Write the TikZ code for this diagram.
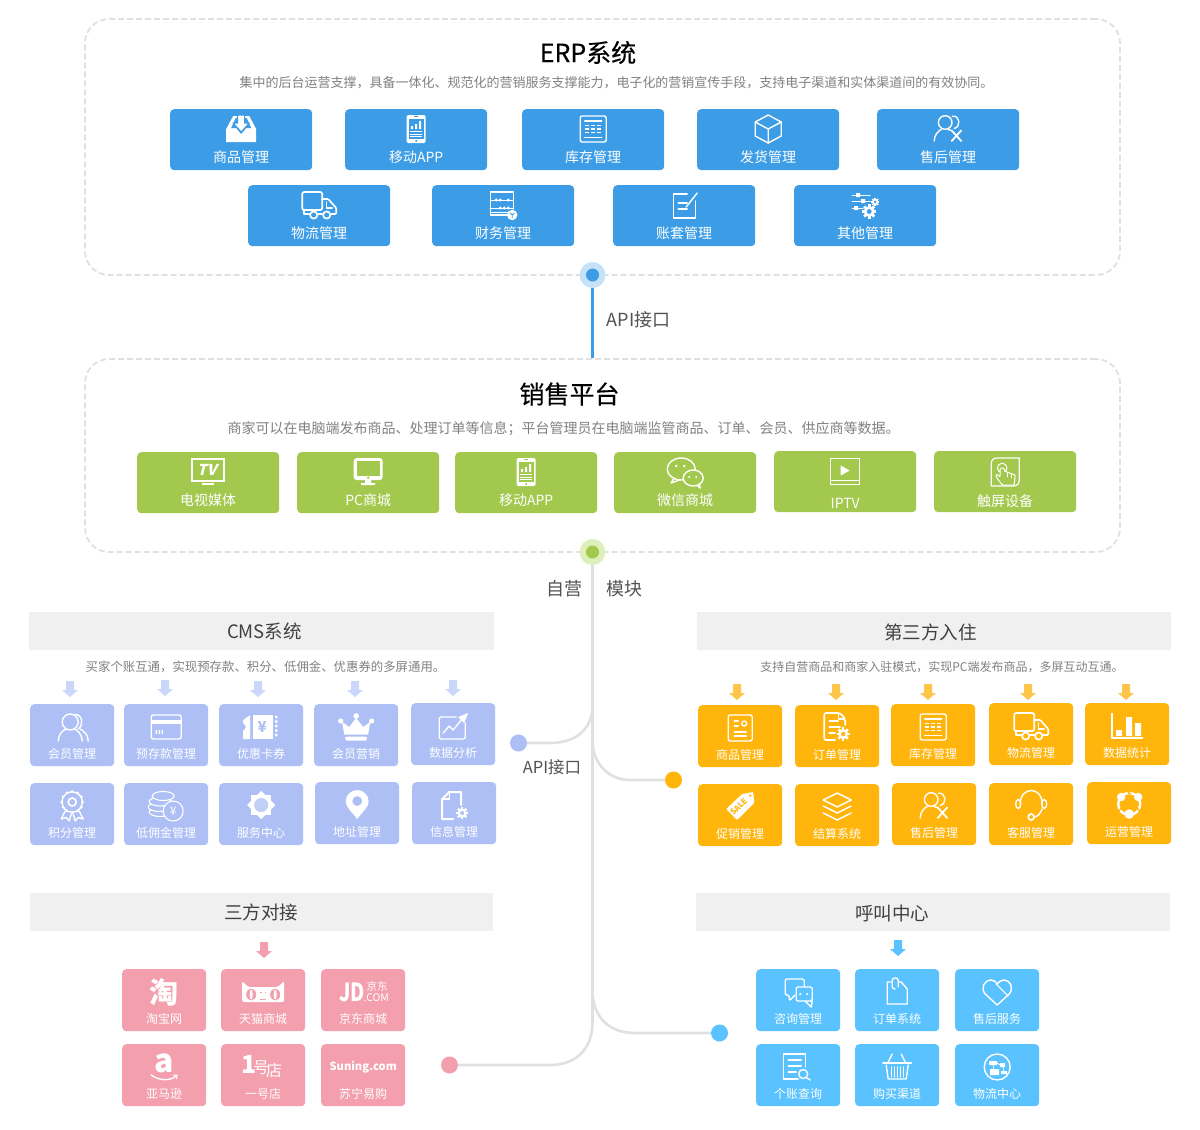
\documentclass[tikz,border=0pt]{standalone}
\usepackage{fontspec}
\setmainfont{Noto Sans CJK SC}
\newfontfamily\halfbold[FakeBold=0.35]{Noto Sans CJK SC}
\usetikzlibrary{calc}

\definecolor{erpblue}{HTML}{3C9DE6}
\definecolor{erphalo}{HTML}{C6E2F8}
\definecolor{salegreen}{HTML}{A2C84E}
\definecolor{salehalo}{HTML}{DFEFBC}
\definecolor{cmsblue}{HTML}{ADBFF5}
\definecolor{cmsarrow}{HTML}{CBD7FA}
\definecolor{amber}{HTML}{FFB50B}
\definecolor{amberarrow}{HTML}{FDC54A}
\definecolor{rosepink}{HTML}{F39FAE}
\definecolor{skyblue}{HTML}{5AC2FE}
\definecolor{panelgray}{HTML}{E0E0E0}
\definecolor{barfill}{HTML}{F0F0F0}

\newcommand{\fs}[1]{\fontsize{#1}{#1}\selectfont}

\tikzset{
	panel/.style = {draw=panelgray, line width=1.8pt, dash pattern=on 6pt off 3pt, rounded corners=24pt, inner sep=0pt, minimum width=1035pt},
	bigtile/.style = {rounded corners=4pt, inner sep=0pt, minimum width=142pt, minimum height=61pt, anchor=north west},
	smalltile/.style = {rounded corners=4pt, inner sep=0pt, minimum width=84pt, minimum height=62pt, anchor=north west},
	bigtext/.style = {text=white, font=\fs{14}, inner sep=0pt},
	smalltext/.style = {text=white, font=\fs{12}, inner sep=0pt},
	headbar/.style = {fill=barfill, inner sep=0pt, minimum height=38pt, anchor=north west},
	headtext/.style = {text=black!75, inner sep=0pt, font=\fs{18.5}},
	subtext/.style = {text=black!50, inner sep=0pt},
	apitext/.style = {text=black!68, inner sep=0pt},
	halo/.style = {circle, inner sep=0pt, minimum size=26pt},
	dot/.style = {circle, inner sep=0pt, minimum size=13pt},
	enddot/.style = {circle, inner sep=0pt, minimum size=17pt},
	branch/.style = {draw=panelgray, line width=2.6pt},
	icline/.style = {draw=white, line width=1.4pt, line join=round, line cap=round},
	icthick/.style = {draw=white, line width=2pt, line join=round, line cap=round},
	icmark/.style = {text=white, inner sep=0pt}
}

\newcommand{\bigtile}[6]{
	\colorlet{tc}{#4}
	\node[bigtile, fill=tc] (#1) at (#2,#3) {};
	\node[bigtext] (#1text) at ([yshift=-48pt]#1.north) {#5};
	\begin{scope}[shift={([yshift=-20pt]#1.north)}] #6 \end{scope}
}
\newcommand{\smalltile}[6]{
	\colorlet{tc}{#4}
	\node[smalltile, fill=tc] (#1) at (#2,#3) {};
	\node[smalltext] (#1text) at ([yshift=-50pt]#1.north) {#5};
	\begin{scope}[shift={([yshift=-23pt]#1.north)}] #6 \end{scope}
}
\newcommand{\blockarrow}[3]{
	\fill[#3] ({#1-4},#2) -- ({#1+4},#2) -- ({#1+4},{#2+9}) -- ({#1+8},{#2+9}) -- (#1,{#2+16}) -- ({#1-8},{#2+9}) -- ({#1-4},{#2+9}) -- cycle;
}
\newcommand{\gearat}[3]{
	\foreach \a in {0,45,...,315} \draw[white, line width={#3*0.45}] (#1,#2) -- ++(\a:{#3*1.2});
	\fill[white] (#1,#2) circle ({#3*0.9});
	\fill[tc] (#1,#2) circle ({#3*0.4});
}

\newcommand{\icinbox}{
	\fill[white] (-15,13) -- (-15,0) -- (-8,-13) -- (8,-13) -- (15,0) -- (15,13) -- cycle;
	\fill[tc] (-10,-1) -- (-5.5,-11) -- (5.5,-11) -- (10,-1) -- (5,-1) -- (0,5) -- (-5,-1) -- cycle;
	\fill[white, draw=tc, line width=1pt] (-3.5,-14) -- (3.5,-14) -- (3.5,-6) -- (8,-6) -- (0,3) -- (-8,-6) -- (-3.5,-6) -- cycle;
}
\newcommand{\icphone}{
	\fill[white, rounded corners=1.5pt] (-9.5,-14) rectangle (9.5,14);
	\fill[tc] (-7.5,-10.5) rectangle (7.5,10);
	\fill[white] (-5,-3) rectangle (-3,0) (-1,-5) rectangle (1,0) (3,-8) rectangle (5,0);
	\draw[white, line width=0.7pt] (-6,2.5) -- (6,2.5) (-6,5) -- (6,5) (-6,7.5) -- (6,7.5);
	\fill[tc] (0,12) circle (1.2);
	\draw[tc, line width=0.8pt] (-2,-12.2) -- (2,-12.2);
}
\newcommand{\ictable}{
	\draw[icline, rounded corners=2pt] (-13,-13) rectangle (13,13);
	\draw[icline] (-8.5,-8) -- (8.5,-8) (-8.5,8.5) -- (8.5,8.5);
	\foreach \yy in {-3.5,0,3.5} \draw[white, line width=1.3pt, dash pattern=on 4.4pt off 1.6pt] (-8.5,\yy) -- (8.5,\yy);
}
\newcommand{\iccube}{
	\draw[icline] (0,-14) -- (13,-7) -- (13,7) -- (0,14) -- (-13,7) -- (-13,-7) -- cycle;
	\draw[icline] (-13,-7) -- (0,0) -- (13,-7) (0,0) -- (0,14);
}
\newcommand{\icaftersale}{
	\draw[icline] (4,-12.8) .. controls (12,-14) and (13,-2) .. (6,-0.5);
	\draw[icline] (-3,-6.5) circle (6.8);
	\draw[icline] (-14,12) .. controls (-14,6) and (-10,2) .. (-7,0.5);
	\draw[icline] (0,0.5) -- (3,1.5);
	\draw[icline, line width=1.8pt] (3.5,1.5) -- (13,12) (13,1.5) -- (3.5,12);
}
\newcommand{\ictruck}{
	\draw[icline, rounded corners=2pt, line width=1.7pt] (-17,-13) rectangle (3,5);
	\draw[icline, line width=1.7pt, rounded corners=1pt] (3,-6) -- (9,-6) -- (17,3) -- (17,9) -- (12,9);
	\draw[icline] (7,-3) -- (7,3) -- (13,3);
	\draw[icline, line width=1.7pt] (-15,5) -- (-15,9) -- (-10,9) (-1,9) -- (3,9);
	\draw[icline, line width=1.7pt, fill=tc] (-5.5,10) circle (3.6) (7.5,10) circle (3.6);
}
\newcommand{\icabacus}{
	\draw[icline] (10,4) -- (10,-13) -- (-13,-13) -- (-13,10) -- (4,10);
	\draw[icline, line width=1pt] (-13,-5) -- (10,-5) (-13,3) -- (10,3) (-13,7) -- (6,7);
	\foreach \xx in {-7,-3,5} \fill[white] (\xx,-5) circle (1.7);
	\foreach \xx in {-3,1,5} \fill[white] (\xx,3) circle (1.7);
	\fill[white] (9,10) circle (5.2);
	\draw[tc, line width=0.8pt] (6.8,7.8) -- (9,10) -- (11.2,7.8) (9,10) -- (9,13);
}
\newcommand{\icedit}{
	\draw[icline] (3,-11) -- (-11,-11) -- (-11,13) -- (11,13) -- (11,-4);
	\draw[icline] (-6,-2) -- (3,-2) (-6,4) -- (3,4);
	\draw[icline] (2,2) -- (13,-12);
}
\newcommand{\icsliders}{
	\draw[icline, line width=1pt] (-13,-10) -- (5,-10) (-13,-4) -- (5,-4) (-13,3) -- (-2,3);
	\fill[white] (-9,-12) rectangle (-5,-8) (-4,-6) rectangle (0,-2) (-11,1) rectangle (-7,5);
	\gearat{10}{-3}{3.5}
	\gearat{4}{6.5}{6}
}
\newcommand{\ictv}{
	\draw[white, line width=1.5pt] (-16,-13) rectangle (16,9);
	\fill[white] (-6,11) rectangle (6,13);
	\node[icmark, font=\fs{15}\bfseries, xslant=0.25, transform shape] (tvmark) at (0,-2) {TV};
}
\newcommand{\icmonitor}{
	\fill[white, rounded corners=3pt] (-14.5,-14) rectangle (14.5,8);
	\fill[tc] (-11.5,-11) rectangle (11.5,3.5);
	\fill[tc] (0,5.7) circle (1.3);
	\fill[white] (-3,8) rectangle (3,11) (-7,11) rectangle (7,13);
}
\newcommand{\icwechat}{
	\draw[icline] (-4,-3) ellipse (14 and 11);
	\draw[icline] (-11,6) -- (-14,11) -- (-6,8);
	\draw[icline, fill=tc] (8,6) ellipse (10 and 8);
	\draw[icline] (12,13.5) -- (15,16) -- (14,11.5);
	\fill[white] (-9,-6) circle (1.4) (-1,-6) circle (1.4) (4,5) circle (1.2) (11,5) circle (1.2);
}
\newcommand{\iciptv}{
	\draw[white, line width=1pt] (-14.5,-13) rectangle (14.5,13) (-14.5,9.5) -- (14.5,9.5);
	\fill[white] (-4.5,-5.5) -- (4.5,-0.5) -- (-4.5,4.5) -- cycle;
}
\newcommand{\ictouch}{
	\draw[icline, line width=1.2pt] (-14,15) -- (-14,-7) .. controls (-14,-11) and (-12,-13) .. (-8,-13) -- (14,-13) -- (14,9) .. controls (14,13) and (12,15) .. (8,15) -- cycle;
	\draw[icline, line width=1pt] (-3,-3) circle (4.8);
	\draw[icline, line width=1pt, fill=tc, rounded corners=1pt] (-5,-3) -- (-5,6) -- (-9,3) -- (-9,6) -- (-3,14) -- (9,14) -- (10,4) -- (-1,0) -- (-1,-3) -- cycle;
	\draw[icline, line width=0.8pt] (2,1.5) -- (2,6) (6,3) -- (6,7);
}
\newcommand{\icusers}{
	\draw[icline] (-2,-5) circle (8);
	\draw[icline] (3,-12.5) .. controls (10,-13) and (12,-2) .. (6,2);
	\draw[icline] (-14,14) .. controls (-14,7) and (-9,3) .. (-6,2);
	\draw[icline] (10,14) .. controls (10,7) and (5,3) .. (2,2);
	\draw[icline] (16,14) .. controls (16,8) and (12,4) .. (8,2);
}
\newcommand{\iccard}{
	\draw[icline, rounded corners=2pt] (-15,-12) rectangle (15,12);
	\fill[white] (-15,-7) rectangle (15,-3);
	\fill[white] (-10.5,3) rectangle (-9,7) (-7.5,3) rectangle (-6,7) (-4.5,3) rectangle (-3,7);
}
\newcommand{\icticket}{
	\fill[white] (-18,-7) -- (-11,-12) -- (-11,12) -- (-18,12) -- (-18,4) -- (-15,0) -- (-18,-4) -- cycle;
	\fill[white] (-8,-12) rectangle (12,12);
	\foreach \yy in {-10,-5.5,...,10} \fill[white] (15,\yy) circle (1.6);
	\node[text=tc, inner sep=0pt, font=\fs{15}\bfseries] (ticketyen) at (1,0) {¥};
}
\newcommand{\iccrown}{
	\fill[white, rounded corners=1.5pt] (-11,9.5) rectangle (11,13.5);
	\fill[white] (-12,7.5) -- (-14,-5) -- (-7,0) -- (0,-9) -- (7,0) -- (14,-5) -- (12,7.5) -- cycle;
	\fill[white] (-15.5,-6) circle (2.6) (0,-11) circle (2.8) (15.5,-6) circle (2.6);
}
\newcommand{\icgrowth}{
	\draw[icline, rounded corners=1.5pt] (3,-9) -- (-14,-9) -- (-14,13) -- (12,13) -- (12,-3);
	\draw[icline] (-10,7) -- (-4,0) -- (0,4) -- (8,-6);
	\fill[white] (15,-13) -- (5,-9) -- (11,-3) -- cycle;
}
\newcommand{\icbadge}{
	\draw[icline] (0,-4) circle (10.2);
	\foreach \a in {0,30,...,330} \fill[white] (0,-4) ++(\a:10.5) circle (1.5);
	\draw[icline, line width=1.7pt] (0,-4) circle (4);
	\draw[icline] (-7,5) -- (-11,13) -- (-6,11.5) -- (-3,15) -- (-1,8);
	\draw[icline] (7,5) -- (11,13) -- (6,11.5) -- (3,15) -- (1,8);
}
\newcommand{\iccoins}{
	\draw[icline, line width=1.1pt, fill=tc] (-6,6) ellipse (11 and 4.5);
	\draw[icline, line width=1.1pt, fill=tc] (-7,1) ellipse (11 and 4.5);
	\draw[icline, line width=1.1pt, fill=tc] (-6,-4.5) ellipse (11 and 4.5);
	\draw[icline, line width=1.1pt, fill=tc] (-3,-10) ellipse (11 and 4.5);
	\draw[icline, line width=1.1pt, fill=tc] (7,5) circle (10);
	\node[icmark, font=\fs{12}] (coinyen) at (7,5) {¥};
}
\newcommand{\icsun}{
	\fill[white] (-10,-11) rectangle (10,9);
	\fill[white, rotate around={45:(0,-1)}] (-10,-11) rectangle (10,9);
	\fill[tc] (0,-1) circle (7);
	\fill[white, opacity=0.25] (0,-1) circle (7);
}
\newcommand{\icpin}{
	\fill[white, even odd rule] (0,14) .. controls (-6,6) and (-11.5,2) .. (-11.5,-3.5) .. controls (-11.5,-10) and (-6,-15) .. (0,-15) .. controls (6,-15) and (11.5,-10) .. (11.5,-3.5) .. controls (11.5,2) and (6,6) .. (0,14) -- cycle (0,-4) circle (5);
}
\newcommand{\icdocgear}{
	\draw[icthick] (-1,14) -- (-12,14) -- (-12,-6) -- (-5,-13) -- (7,-13) -- (7,0);
	\draw[icline] (-5,-13) -- (-5,-6) -- (-12,-6);
	\gearat{8}{8}{5}
}
\newcommand{\icgoods}{
	\draw[icline, rounded corners=2pt] (-12,-13) rectangle (12,13);
	\draw[icline] (-6,-7) -- (-2,-7) (-6,-2) -- (-2,-2) (-6,4) -- (6,4) (-6,8) -- (6,8);
	\draw[icline] (4,-4.5) circle (2.5);
}
\newcommand{\icorder}{
	\draw[icline, rounded corners=2pt, line width=1.7pt] (-2,12) -- (-13,12) -- (-13,-15) -- (3,-15) -- (8,-9) -- (8,-3);
	\draw[icline] (-8,-7) -- (1,-7) (-8,-1) -- (3,-1) (-8,5) -- (-2,5);
	\draw[icline] (1,-14) -- (1,-9) -- (7,-9);
	\gearat{6}{6}{5.5}
}
\newcommand{\icbars}{
	\draw[icthick, line cap=butt] (-15,-13) -- (-15,12) -- (16,12);
	\fill[white] (-11,4) rectangle (-5,10) (-1,-9) rectangle (5,10) (8,-3) rectangle (14,10);
}
\newcommand{\icsale}{
	\fill[white, rounded corners=1pt] (2,-13) -- (13,-15) -- (14,-4) -- (-3,13) -- (-14,2) -- cycle;
	\fill[tc] (10,-11.5) circle (1.3);
	\node[text=tc, inner sep=0pt, font=\fs{8}\bfseries, rotate=45] (salemark) at (-1.5,-0.5) {SALE};
}
\newcommand{\iclayers}{
	\draw[icline] (0,-14) -- (14,-7) -- (0,0) -- (-14,-7) -- cycle;
	\draw[icline] (-14,-1) -- (0,6) -- (14,-1) (-14,6) -- (0,13) -- (14,6);
}
\newcommand{\icheadset}{
	\draw[icline] (-11,-2) .. controls (-11,-20) and (11,-20) .. (11,-2);
	\draw[icline] (-13,-2) ellipse (2.5 and 4.5) (13,-2) ellipse (2.5 and 4.5);
	\draw[icline] (11,3) .. controls (9,8) and (6,11) .. (3,11);
	\draw[icline, line width=1.7pt] (0,11) circle (3);
}
\newcommand{\icops}{
	\draw[white, line width=2.4pt] (0,-1) circle (11);
	\fill[white] (-8,-8) circle (4.2) (9,-8) circle (4.2) (0,9) circle (4.8);
	\draw[tc, line width=1.4pt] (-1.5,-12.5) -- (1.5,-11) (-10.5,6) -- (-8,3.5) (10.5,6) -- (8,3.5);
}
\newcommand{\ictaobao}{
	\node[icmark, font=\fs{29}\bfseries] (taobaomark) at (0,0) {淘};
}
\newcommand{\iccat}{
	\fill[white, rounded corners=2pt] (-21,-11) -- (-15,-5) -- (15,-5) -- (21,-11) -- (21,10) -- (-21,10) -- cycle;
	\fill[tc] (-12,2.5) ellipse (5 and 6) (12,2.5) ellipse (5 and 6);
	\fill[white] (-12,2.5) ellipse (1.5 and 5) (12,2.5) ellipse (1.5 and 5);
	\draw[tc, line width=1pt] (-3,0) -- (-1.5,0) (1.5,0) -- (3,0) (-3,7) -- (3,7);
}
\newcommand{\icjd}{
	\node[icmark, font=\fs{25}\bfseries, xscale=0.78, transform shape] (jdmark) at (-11,0) {JD};
	\node[icmark, font=\fs{10.5}] (jdcn) at (14,-5.5) {京东};
	\node[icmark, font=\fs{10.5}] (jdcom) at (13,6) {.COM};
}
\newcommand{\icamazon}{
	\node[icmark, font=\fs{32}\bfseries] (amazonmark) at (0,-4) {a};
	\draw[icline] (-13,8) .. controls (-5,14) and (6,14) .. (12,9);
	\draw[icline, line width=1pt] (9,8) -- (13,8) -- (12,12);
}
\newcommand{\icyihao}{
	\node[icmark, font=\fs{25}\bfseries] (yihaoone) at (-14,-3) {1};
	\node[icmark, font=\fs{16}] (yihaohao) at (-2,1) {号};
	\node[icmark, font=\fs{16}] (yihaodian) at (11,3) {店};
}
\newcommand{\icsuning}{
	\node[icmark, font=\fs{11.2}\bfseries] (suningmark) at (0,0) {Suning.com};
}
\newcommand{\icchat}{
	\draw[icline, rounded corners=1.5pt] (-3,3) -- (-9,9) -- (-9,3) -- (-13,3) -- (-13,-13) -- (6,-13) -- (6,-5);
	\draw[icline, fill=tc, rounded corners=1.5pt] (-2,-5) rectangle (14,9);
	\draw[icline] (14,9) -- (13,15) -- (7,9);
	\fill[white] (2,2) circle (1.2) (9,2) circle (1.2);
}
\newcommand{\icclip}{
	\draw[icline] (2,-10) -- (4,-10) -- (10,-3) -- (10,12) -- (-10,12) -- (-10,-10) -- (-5,-10);
	\draw[icline, rounded corners=2.5pt] (-2,-3) -- (-5,-3) -- (-5,-14) -- (1,-14) -- (1,-5);
}
\newcommand{\icheart}{
	\draw[icline] (0,13) -- (-12,2) .. controls (-17,-4) and (-13,-12) .. (-6,-12) .. controls (-3,-12) and (-1,-10) .. (0,-8) .. controls (1,-10) and (4,-12) .. (7,-12) .. controls (13,-12) and (17,-4) .. (12,2) -- cycle;
	\draw[icline, line width=1pt] (-1,-8) -- (11,4);
}
\newcommand{\iclistmag}{
	\draw[icline] (7,0) -- (7,-13) -- (-15,-13) -- (-15,12) -- (0,12);
	\draw[icline] (-10,-7) -- (3,-7) (-10,-1) -- (3,-1) (-10,5) -- (-2,5);
	\draw[icline] (5,7) circle (4.5);
	\draw[icline] (8,10.5) -- (12,13);
}
\newcommand{\icbasket}{
	\draw[icthick] (-14,-4) -- (14,-4);
	\draw[icline] (-11,-2) -- (-9,12) -- (9,12) -- (11,-2);
	\foreach \xx in {-6,-3,0,3,6} \draw[icline] (\xx,0) -- (\xx,10);
	\draw[icline] (-5,-13) -- (-9,-5) (4,-13) -- (8,-5);
}
\newcommand{\icflow}{
	\draw[icline] (0,0) circle (13);
	\fill[white] (-8,-6) rectangle (0,-2) (-7,2) rectangle (2,8) (3,-4) rectangle (8,0) (4,4) rectangle (10,7);
	\draw[white, line width=0.8pt] (-4,-2) -- (-4,2) (0,-4) -- (3,-2) (6,0) -- (6,4);
}

\begin{document}
\begin{tikzpicture}[x=1pt, y=-1pt]
	\useasboundingbox (0,0) rectangle (1200,1130);

	\node[panel, minimum height=256pt] (erppanel) at (602.5,147) {};
	\node[panel, minimum height=193pt] (salepanel) at (602.5,455.5) {};
	\node[halo, fill=erphalo] (erpring) at (592.5,275) {};
	\node[dot, fill=erpblue] (erpdot) at (592.5,275) {};
	\node[halo, fill=salehalo] (salering) at (592.5,552) {};
	\node[dot, fill=salegreen] (saledot) at (592.5,552) {};
	\draw[erpblue, line width=2.6pt] (erpring) -- (erpring |- salepanel.north);

	\node[inner sep=0pt, font=\fs{25}\halfbold] (erptitle) at (588,52.5) {ERP系统};
	\node[subtext, font=\fs{13}] (erpnote) at (616.5,83) {集中的后台运营支撑，具备一体化、规范化的营销服务支撑能力，电子化的营销宣传手段，支持电子渠道和实体渠道间的有效协同。};
	\node[apitext, font=\fs{18}] (toplabel) at (638.5,320) {API接口};
	\node[inner sep=0pt, font=\fs{25}\halfbold] (saletitle) at (569.5,394) {销售平台};
	\node[subtext, font=\fs{14}] (salenote) at (563.5,428.5) {商家可以在电脑端发布商品、处理订单等信息；平台管理员在电脑端监管商品、订单、会员、供应商等数据。};
	\node[apitext, font=\fs{18}] (selflabel) at (564.5,588.5) {自营};
	\node[apitext, font=\fs{18}] (modlabel) at (624.5,588.5) {模块};
	\node[apitext, font=\fs{16.5}] (midlabel) at (552,767.5) {API接口};

	\bigtile{erpgoods}{170}{109}{erpblue}{商品管理}{\icinbox}
	\bigtile{erpmobile}{345}{109}{erpblue}{移动APP}{\icphone}
	\bigtile{erpstock}{522}{109}{erpblue}{库存管理}{\ictable}
	\bigtile{erpship}{697}{109}{erpblue}{发货管理}{\iccube}
	\bigtile{erpafter}{877}{109}{erpblue}{售后管理}{\icaftersale}
	\bigtile{erptruck}{248}{185}{erpblue}{物流管理}{\ictruck}
	\bigtile{erpfinance}{432}{185}{erpblue}{财务管理}{\icabacus}
	\bigtile{erpbook}{613}{185}{erpblue}{账套管理}{\icedit}
	\bigtile{erpother}{794}{185}{erpblue}{其他管理}{\icsliders}

	\bigtile{saletv}{137}{452}{salegreen}{\raisebox{-1pt}{电视媒体}}{\ictv}
	\bigtile{salepc}{297}{452}{salegreen}{PC商城}{\icmonitor}
	\bigtile{salemobile}{455}{452}{salegreen}{移动APP}{\icphone}
	\bigtile{salewechat}{614}{452}{salegreen}{微信商城}{\icwechat}
	\bigtile{saleiptv}{774}{451}{salegreen}{\raisebox{-9pt}[0pt][0pt]{IPTV}}{\iciptv}
	\bigtile{saletouch}{934}{451}{salegreen}{\raisebox{-7pt}[0pt][0pt]{触屏设备}}{\ictouch}

	\node[headbar, fill=barfill, minimum width=465pt] (cmsbar) at (29,612) {};
	\node[headtext] (cmstitle) at (264.5,631) {CMS系统};
	\node[subtext, font=\fs{12.4}] (cmsnote) at (265.5,667) {买家个账互通，实现预存款、积分、低佣金、优惠券的多屏通用。};
	\node[headbar, minimum width=474pt] (thirdbar) at (697,612) {};
	\node[headtext] (thirdtitle) at (930.5,632) {第三方入住};
	\node[subtext, font=\fs{12}] (thirdnote) at (942,667) {支持自营商品和商家入驻模式，实现PC端发布商品，多屏互动互通。};
	\node[headbar, minimum width=463pt] (dockbar) at (30,893) {};
	\node[headtext] (docktitle) at (261,912) {三方对接};
	\node[headbar, minimum width=474pt] (callbar) at (696,893) {};
	\node[headtext] (calltitle) at (892,913) {呼叫中心};

	\blockarrow{70}{681}{cmsarrow}
	\blockarrow{165}{680}{cmsarrow}
	\blockarrow{258}{681}{cmsarrow}
	\blockarrow{355}{681}{cmsarrow}
	\blockarrow{453}{680}{cmsarrow}
	\blockarrow{737}{684}{amberarrow}
	\blockarrow{836}{684}{amberarrow}
	\blockarrow{928}{684}{amberarrow}
	\blockarrow{1028}{684}{amberarrow}
	\blockarrow{1126}{684}{amberarrow}
	\blockarrow{264}{942}{rosepink}
	\blockarrow{898}{940}{skyblue}

	\smalltile{cmsuser}{30}{704}{cmsblue}{会员管理}{\icusers}
	\smalltile{cmsdeposit}{124}{704}{cmsblue}{预存款管理}{\iccard}
	\smalltile{cmscoupon}{219}{704}{cmsblue}{优惠卡券}{\icticket}
	\smalltile{cmsvip}{314}{704}{cmsblue}{会员营销}{\iccrown}
	\smalltile{cmsdata}{411}{703}{cmsblue}{数据分析}{\icgrowth}
	\smalltile{cmspoint}{30}{783}{cmsblue}{积分管理}{\icbadge}
	\smalltile{cmsfee}{124}{783}{cmsblue}{低佣金管理}{\iccoins}
	\smalltile{cmsservice}{219}{783}{cmsblue}{服务中心}{\icsun}
	\smalltile{cmsaddress}{315}{782}{cmsblue}{地址管理}{\icpin}
	\smalltile{cmsinfo}{412}{782}{cmsblue}{信息管理}{\icdocgear}

	\smalltile{thirdgoods}{698}{705}{amber}{商品管理}{\icgoods}
	\smalltile{thirdorder}{795}{705}{amber}{订单管理}{\icorder}
	\smalltile{thirdstock}{891}{704}{amber}{库存管理}{\ictable}
	\smalltile{thirdtruck}{989}{703}{amber}{物流管理}{\ictruck}
	\smalltile{thirdstats}{1085}{703}{amber}{数据统计}{\icbars}
	\smalltile{thirdsale}{698}{784}{amber}{促销管理}{\icsale}
	\smalltile{thirdpay}{795}{784}{amber}{结算系统}{\iclayers}
	\smalltile{thirdafter}{892}{783}{amber}{售后管理}{\icaftersale}
	\smalltile{thirdcare}{989}{783}{amber}{客服管理}{\icheadset}
	\smalltile{thirdops}{1087}{782}{amber}{运营管理}{\icops}

	\smalltile{docktaobao}{122}{969}{rosepink}{淘宝网}{\ictaobao}
	\smalltile{docktmall}{221}{969}{rosepink}{天猫商城}{\iccat}
	\smalltile{dockjd}{321}{969}{rosepink}{京东商城}{\icjd}
	\smalltile{dockamazon}{122}{1044}{rosepink}{亚马逊}{\icamazon}
	\smalltile{dockyihao}{221}{1044}{rosepink}{一号店}{\icyihao}
	\smalltile{docksuning}{321}{1044}{rosepink}{苏宁易购}{\icsuning}

	\smalltile{callask}{756}{969}{skyblue}{咨询管理}{\icchat}
	\smalltile{callorder}{855}{969}{skyblue}{订单系统}{\icclip}
	\smalltile{callafter}{955}{969}{skyblue}{售后服务}{\icheart}
	\smalltile{calllist}{756}{1044}{skyblue}{个账查询}{\iclistmag}
	\smalltile{callbuy}{855}{1044}{skyblue}{购买渠道}{\icbasket}
	\smalltile{callflow}{955}{1044}{skyblue}{物流中心}{\icflow}

	\node[enddot, fill=cmsblue] (cmsdot) at (518.5,743) {};
	\node[enddot, fill=amber] (thirddot) at (673.5,780) {};
	\node[enddot, fill=rosepink] (dockdot) at (449.5,1065) {};
	\node[enddot, fill=skyblue] (calldot) at (719.5,1033) {};
	\coordinate (cmsfork) at (592.5,705);
	\coordinate (thirdfork) at (592.5,740);
	\coordinate (callfork) at (592.5,990);
	\coordinate (dockfork) at (592.5,1022);
	\draw[branch] (salering) -- (dockfork);
	\draw[branch] (cmsfork) .. controls (592.5,730) and (575,743) .. (550,743) -- (cmsdot);
	\draw[branch] (thirdfork) .. controls (592.5,765) and (610,780) .. (630,780) -- (thirddot);
	\draw[branch] (callfork) .. controls (592.5,1018) and (610,1033) .. (635,1033) -- (calldot);
	\draw[branch] (dockfork) .. controls (592.5,1050) and (575,1065) .. (550,1065) -- (dockdot);
\end{tikzpicture}
\end{document}
